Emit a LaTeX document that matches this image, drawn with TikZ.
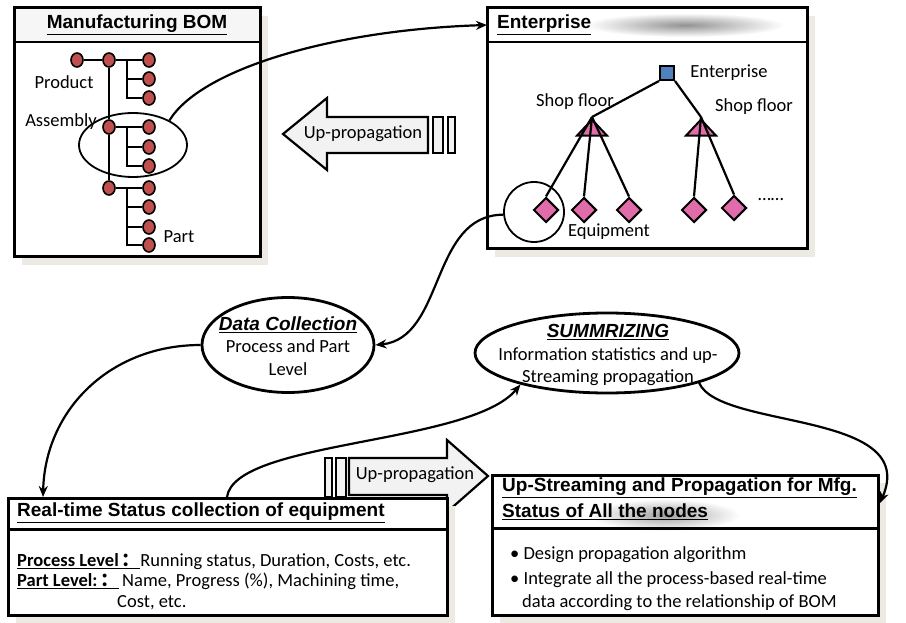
\documentclass[tikz,border=0pt]{standalone}
\usepackage{fontspec}
\setmainfont{Carlito}
\newfontfamily\arialfont{Liberation Sans}
\newfontfamily\cjkfont{Noto Sans CJK SC}
\usetikzlibrary{shapes.geometric,arrows.meta,shadows}

\definecolor{bomred}{RGB}{192,80,77}
\definecolor{shoppink}{RGB}{224,108,170}
\definecolor{entblue}{RGB}{79,129,189}
\definecolor{arrowgray}{RGB}{242,242,242}
\definecolor{panelshade}{RGB}{236,234,226}

\newcommand{\paneltitle}[1]{{\arialfont\bfseries\fontsize{19}{24}\selectfont\underline{#1}}}
\newcommand{\bubbletitle}[1]{{\arialfont\bfseries\itshape\fontsize{19}{22}\selectfont\underline{#1}}}

\begin{document}
\begin{tikzpicture}
  [x=1pt,y=-1pt,
   every node/.style={font=\fontsize{18.5}{22.5}\selectfont,inner sep=0pt},
   panel/.style={draw,line width=3pt,fill=white,
     general shadow={fill=panelshade,shadow xshift=8pt,shadow yshift=-8pt}},
   bomdot/.style={ellipse,draw,line width=1.6pt,fill=bomred,
     minimum width=12pt,minimum height=14pt},
   bomline/.style={line width=2.5pt},
   shoptri/.style={isosceles triangle,isosceles triangle stretches,
     shape border rotate=90,draw,line width=2pt,fill=shoppink,
     minimum width=30pt,minimum height=16pt},
   equip/.style={diamond,draw,line width=2pt,fill=shoppink,minimum size=25pt},
   entsq/.style={rectangle,draw,line width=2pt,fill=entblue,minimum size=14pt},
   entline/.style={line width=2.2pt},
   ring/.style={ellipse,draw,line width=1.8pt},
   bubble/.style={ellipse,draw,line width=2.8pt},
   conn/.style={line width=2.2pt,-{Stealth[length=11pt,width=9pt]}},
   bigarrow/.style={draw,line width=2.2pt,fill=arrowgray}]

  \useasboundingbox (0,0) rectangle (906,623);

  % Manufacturing BOM
  \node[panel,minimum width=246pt,minimum height=249pt] (bom) at (137,132.5) {};
  \fill[gray!7] (15.5,9.5) rectangle (258.5,42);
  \draw[line width=2.8pt] (14,42) -- (260,42);
  \node (bomtitle) at (137,25) {\paneltitle{Manufacturing BOM}};

  \foreach \n/\px/\py in {d1/77/60, d2/109/60, asm/109/127, d3/109/188,
      c1/149/60, c2/149/79, c3/149/98, c4/149/127, c5/149/147, c6/149/166,
      c7/149/188, c8/149/207, c9/149/227, c10/149/245}
    \node[bomdot] (\n) at (\px,\py) {};
  \foreach \n/\py in {br1/60, br2/127, br3/188}
    \coordinate (\n) at (127,\py);

  \foreach \from/\to in {d1/d2, d2/c1, d2/asm, asm/d3, asm/c4, d3/c7}
    \draw[bomline] (\from) -- (\to);
  \foreach \from/\to in {br1/c2, br1/c3, br2/c5, br2/c6, br3/c8, br3/c9, br3/c10}
    \draw[bomline] (\from) |- (\to);

  \node (product) at (64,82) {Product};
  \node (assembly) at (61,122) {Assembly};
  \node (part) at (179,237) {Part};
  \node[ring,minimum width=108pt,minimum height=64pt] (ring) at (133,145) {};

  % Enterprise
  \node[panel,minimum width=320pt,minimum height=241pt] (ent) at (647,128.5) {};
  \shade[inner color=gray!85,outer color=white] (685,25) ellipse [x radius=100,y radius=12];
  \draw[line width=2.8pt] (487,42) -- (807,42);
  \node[anchor=west] (enttitle) at (497,25) {\paneltitle{Enterprise}};

  \node[entsq] (esq) at (667,73) {};
  \node[shoptri,anchor=apex] (sf1) at (592,117) {};
  \node[shoptri,anchor=apex] (sf2) at (701,117) {};
  \foreach \n/\px/\py in {eq1/546/210, eq2/584/210, eq3/629/210, eq4/694/210, eq5/734/208}
    \node[equip] (\n) at (\px,\py) {};

  \draw[entline] (esq.south west) -- (sf1.apex);
  \draw[entline] (esq.south east) -- (sf2.apex);
  \foreach \from/\to in {sf1/eq1, sf1/eq2, sf1/eq3, sf2/eq4, sf2/eq5}
    \draw[entline] (\from.apex) -- (\to.north);

  \node (entlabel) at (729,73) {Enterprise};
  \node (shop1) at (575,102) {Shop floor};
  \node (shop2) at (754,107) {Shop floor};
  \node (equiplabel) at (609,232) {Equipment};
  \node (moredots) at (771,200) {……};
  \node[draw,circle,line width=1.8pt,minimum size=60pt] (eqc) at (534,212) {};

  % up-propagation, enterprise -> BOM
  \draw[bigarrow] (283,134) -- (327,98) -- (327,117) -- (428,117) -- (428,153)
    -- (327,153) -- (327,170) -- cycle;
  \draw[bigarrow] (433,117) rectangle (443,153);
  \draw[bigarrow] (448,117) rectangle (455,153);
  \node (uplabel1) at (363,134) {Up-propagation};

  % bubbles
  \node[bubble,minimum width=172pt,minimum height=95pt] (dc) at (288,345) {};
  \node[align=center] (dctext) at (288,346)
    {\bubbletitle{Data Collection}\\Process and Part\\Level};
  \node[bubble,minimum width=264pt,minimum height=80pt] (sum) at (607,353) {};
  \node[align=center] (sumtext) at (608,355)
    {\bubbletitle{SUMMRIZING}\\Information statistics and up-\\Streaming propagation};

  % up-propagation, status -> up-streaming
  \draw[bigarrow] (325,458) rectangle (332,497);
  \draw[bigarrow] (336,458) rectangle (346,497);
  \draw[bigarrow] (349,458) -- (447,458) -- (447,440) -- (488,476) -- (447,512)
    -- (447,495) -- (349,495) -- cycle;
  \node (uplabel2) at (415,475) {Up-propagation};

  % Real-time status
  \node[panel,minimum width=439pt,minimum height=117pt] (rts) at (227.5,556.5) {};
  \draw[line width=3pt] (8,529) -- (447,529);
  \node[anchor=west] (rtstitle) at (17,513) {\paneltitle{Real-time Status collection of equipment}};
  \node[anchor=west] (proclevel) at (17,562)
    {\underline{\textbf{Process Level\,{\cjkfont ：}}}Running status, Duration, Costs, etc.};
  \node[anchor=west] (partlevel) at (17,581)
    {\underline{\textbf{Part Level:\,{\cjkfont ：}}}\,Name, Progress (\%), Machining time,};
  \node[anchor=west] (partcost) at (117,603) {Cost, etc.};

  % Up-streaming
  \node[panel,minimum width=386pt,minimum height=140pt] (ups) at (685,545) {};
  \shade[inner color=gray!75,outer color=white] (665,515) ellipse [x radius=75,y radius=16];
  \draw[line width=3pt] (492,528) -- (878,528);
  \node[anchor=west] (upstitle1) at (502,488) {\paneltitle{Up-Streaming and Propagation for Mfg.}};
  \node[anchor=west] (upstitle2) at (502,512) {\paneltitle{Status of All the nodes}};
  \node[anchor=west] (bullet1) at (510,555) {\textbullet\ Design propagation algorithm};
  \node[anchor=west] (bullet2) at (510,580) {\textbullet\ Integrate all the process-based real-time};
  \node[anchor=west] (bullet2b) at (522,603) {data according to the relationship of BOM};

  % connectors
  \coordinate (entin) at (487,25);
  \coordinate (rtsin) at (43,497);
  \coordinate (rtsout) at (227,497);
  \coordinate (upsin) at (880,503);

  \draw[conn] (ring.34) .. controls (200,70) and (330,30) .. (entin);
  \draw[conn] (eqc.185) .. controls (430,215) and (445,338) .. (dc.east);
  \draw[conn] (dc.west) .. controls (110,345) and (45,410) .. (rtsin);
  \draw[conn] (rtsout) .. controls (235,440) and (470,445) .. (sum.200);
  \draw[conn] (sum.-18) .. controls (720,430) and (920,410) .. (upsin);

\end{tikzpicture}
\end{document}
